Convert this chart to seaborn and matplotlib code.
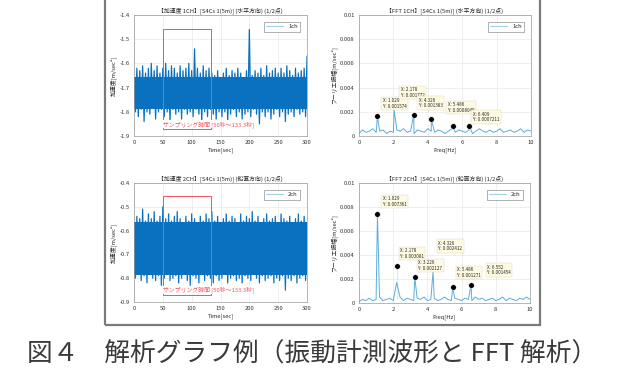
import numpy as np
import pandas as pd
import seaborn as sns
from matplotlib import pyplot as plt
from matplotlib.patches import Rectangle

# ---- data ----
# acceleration waveform envelopes (local max every 5 s, local min in between)
ch1_hi = [-1.66, -1.62, -1.63, -1.61, -1.64, -1.62, -1.60, -1.63, -1.61, -1.64,
          -1.62, -1.60, -1.63, -1.61, -1.62, -1.64, -1.61, -1.63, -1.62, -1.60,
          -1.63, -1.54, -1.62, -1.64, -1.61, -1.63, -1.62, -1.64, -1.65, -1.63,
          -1.66, -1.64, -1.62, -1.65, -1.63, -1.64, -1.62, -1.64, -1.66, -1.63,
          -1.46, -1.65, -1.63, -1.64, -1.62, -1.65, -1.61, -1.64, -1.63, -1.62,
          -1.64, -1.62, -1.64, -1.61, -1.63, -1.65, -1.62, -1.64, -1.63, -1.62,
          -1.57]
ch1_lo = [-1.80, -1.82, -1.79, -1.84, -1.80, -1.81, -1.78, -1.83, -1.80, -1.79,
          -1.82, -1.80, -1.84, -1.79, -1.81, -1.80, -1.83, -1.79, -1.81, -1.80,
          -1.82, -1.79, -1.81, -1.84, -1.80, -1.82, -1.79, -1.81, -1.83, -1.80,
          -1.82, -1.80, -1.84, -1.81, -1.79, -1.82, -1.80, -1.83, -1.81, -1.80,
          -1.82, -1.79, -1.81, -1.85, -1.80, -1.82, -1.80, -1.83, -1.81, -1.79,
          -1.82, -1.80, -1.84, -1.81, -1.80, -1.82, -1.79, -1.81, -1.80, -1.82]
ch1_core = (-1.79, -1.655)   # dense part of the trace
ch2_hi = [-0.57, -0.54, -0.55, -0.51, -0.56, -0.53, -0.55, -0.52, -0.56, -0.54,
          -0.50, -0.55, -0.53, -0.56, -0.54, -0.52, -0.55, -0.57, -0.54, -0.56,
          -0.53, -0.55, -0.57, -0.54, -0.56, -0.53, -0.55, -0.52, -0.56, -0.54,
          -0.57, -0.55, -0.53, -0.56, -0.54, -0.55, -0.57, -0.53, -0.56, -0.54,
          -0.55, -0.52, -0.56, -0.54, -0.57, -0.55, -0.53, -0.56, -0.55, -0.54,
          -0.57, -0.53, -0.55, -0.56, -0.54, -0.57, -0.55, -0.53, -0.56, -0.54,
          -0.57]
ch2_lo = [-0.80, -0.78, -0.81, -0.79, -0.82, -0.78, -0.80, -0.81, -0.79, -0.83,
          -0.80, -0.78, -0.81, -0.80, -0.79, -0.82, -0.80, -0.78, -0.81, -0.83,
          -0.79, -0.80, -0.82, -0.78, -0.81, -0.79, -0.80, -0.82, -0.79, -0.81,
          -0.80, -0.78, -0.82, -0.80, -0.79, -0.81, -0.80, -0.82, -0.79, -0.80,
          -0.81, -0.78, -0.80, -0.82, -0.79, -0.81, -0.80, -0.79, -0.82, -0.80,
          -0.81, -0.79, -0.85, -0.80, -0.81, -0.79, -0.82, -0.80, -0.79, -0.81]
ch2_core = (-0.785, -0.565)

# FFT spectra: noise floor every 0.2 Hz plus the peaks
fft1_floor = [0.0002, 0.0005, 0.0003, 0.0004, 0.0006, 0.0003, 0.0004, 0.0005, 0.0002, 0.0004,
              0.0003, 0.0005, 0.0004, 0.0006, 0.0003, 0.0004, 0.0002, 0.0005, 0.0004, 0.0003,
              0.0006, 0.0004, 0.0003, 0.0005, 0.0004, 0.0002, 0.0004, 0.0006, 0.0003, 0.0005,
              0.0004, 0.0003, 0.0005, 0.0002, 0.0004, 0.0006, 0.0004, 0.0003, 0.0005, 0.0003,
              0.0004, 0.0006, 0.0003, 0.0004, 0.0005, 0.0003, 0.0004, 0.0006, 0.0003, 0.0005,
              0.0004]
fft1_pk_f = [1.07, 2.04, 3.18, 4.21, 5.45, 6.42]
fft1_pk_a = [0.00165, 0.00215, 0.00177, 0.00138, 0.00082, 0.00082]
fft2_floor = [0.0001, 0.0003, 0.0002, 0.0004, 0.0002, 0.0003, 0.0005, 0.0002, 0.0003, 0.0004,
              0.0002, 0.0003, 0.0005, 0.0002, 0.0004, 0.0003, 0.0002, 0.0004, 0.0003, 0.0005,
              0.0002, 0.0003, 0.0004, 0.0002, 0.0003, 0.0005, 0.0003, 0.0002, 0.0004, 0.0003,
              0.0002, 0.0004, 0.0003, 0.0002, 0.0005, 0.0003, 0.0004, 0.0002, 0.0003, 0.0004,
              0.0002, 0.0003, 0.0005, 0.0002, 0.0004, 0.0003, 0.0002, 0.0004, 0.0003, 0.0005,
              0.0003]
fft2_pk_f = [1.08, 2.20, 3.26, 4.33, 5.48, 6.55]
fft2_pk_a = [0.0074, 0.0031, 0.00217, 0.0026, 0.0013, 0.0015]

# data tips (marker index, label)
tips1 = ["X: 1.029\nY: 0.001574", "X: 2.178\nY: 0.001772", "X: 4.326\nY: 0.001383",
         "X: 5.486\nY: 0.0008045", "X: 6.409\nY: 0.0007211"]
tips1_idx = [0, 2, 3, 4, 5]
tips2 = ["X: 1.029\nY: 0.007361", "X: 2.178\nY: 0.003081", "X: 3.226\nY: 0.002127",
         "X: 4.326\nY: 0.002412", "X: 5.486\nY: 0.001271", "X: 6.552\nY: 0.001454"]
tips2_idx = [0, 1, 2, 3, 4, 5]

sample_start, sample_end = 50, 133.3

titles = ["【加速度 1CH】[S4Cs 1(5m)] (水平方向) (1/2点)",
          "【FFT 1CH】[S4Cs 1(5m)] (水平方向) (1/2点)",
          "【加速度 2CH】[S4Cs 1(5m)] (鉛直方向) (1/2点)",
          "【FFT 2CH】[S4Cs 1(5m)] (鉛直方向) (1/2点)"]
legends = ["1ch", "2ch"]
caption = "図４　解析グラフ例（振動計測波形と FFT 解析）"

ch1_ticks = [-1.9, -1.8, -1.7, -1.6, -1.5, -1.4]
ch2_ticks = [-0.9, -0.8, -0.7, -0.6, -0.5, -0.4]
fft_ticks = [0, 0.002, 0.004, 0.006, 0.008, 0.01]
fft_tick_labels = ["0", "0.002", "0.004", "0.006", "0.008", "0.01"]

# ---- style ----
sns.set_theme(style="whitegrid")
plt.rcParams['font.family'] = ['Noto Sans CJK JP', 'DejaVu Sans']
plt.rcParams['axes.unicode_minus'] = False

fig = plt.figure(figsize=(6.18, 3.79), dpi=100)
fig.patch.set_facecolor('white')

wave_col = '#0a70c0'
fft_col = '#5aaddc'
red = '#f4505f'
fs = 4.2

# outer frame of the figure panel
fig.add_artist(Rectangle((105 / 618, 1 - 325 / 379), 435 / 618, 325 / 379 + 0.01,
                         transform=fig.transFigure, fill=False, ec='#7a7a7a', lw=1.6))

pos = [[0.2168, 0.6412, 0.280, 0.3193],
       [0.5809, 0.6412, 0.2783, 0.3193],
       [0.2168, 0.2032, 0.280, 0.3140],
       [0.5809, 0.2005, 0.2767, 0.3166]]


def style_axes(ax):
    ax.tick_params(labelsize=fs, length=1.5, pad=1.5, colors='#333333')
    ax.grid(True, color='#e4e4e4', lw=0.4)
    for s in ax.spines.values():
        s.set_color('#9a9a9a')
        s.set_linewidth(0.5)


def add_legend(ax):
    lg = ax.legend(loc='upper right', fontsize=fs, handlelength=3, frameon=True,
                   fancybox=False, borderpad=0.4, borderaxespad=1.2)
    lg.get_frame().set_edgecolor('#555555')
    lg.get_frame().set_linewidth(0.4)
    lg.get_lines()[0].set_color('#9fd3ef')
    lg.get_lines()[0].set_linewidth(0.8)


def wave_panel(ax, hi, lo, core, ticks, title, leg, box_lo, box_hi):
    t_hi = np.linspace(0, 300, len(hi))
    t_lo = np.linspace(2.5, 297.5, len(lo))
    df = pd.DataFrame({'t': np.concatenate([t_hi, t_lo]),
                       'a': np.concatenate([hi, lo])}).sort_values('t')
    ax.fill_between([0, 300], core[0], core[1], color=wave_col, lw=0)
    sns.lineplot(data=df, x='t', y='a', ax=ax, color=wave_col, lw=0.9,
                 sort=False, label=leg)
    ax.set_xlim(0, 300)
    ax.set_ylim(ticks[0], ticks[-1])
    ax.set_xticks([0, 50, 100, 150, 200, 250, 300])
    ax.set_yticks(ticks)
    ax.set_yticklabels([f"{v:.1f}" for v in ticks])
    ax.set_xlabel("Time[sec]", fontsize=fs, labelpad=1.5)
    ax.set_ylabel("加速度[m/sec²]", fontsize=fs, labelpad=2)
    ax.set_title(title, fontsize=fs, pad=2)
    ax.add_patch(Rectangle((sample_start, box_lo), sample_end - sample_start, box_hi - box_lo,
                           fill=False, ec=red, lw=0.7, zorder=5))
    ax.text(sample_start + 1, box_lo + 0.006, f"サンプリング時間 [{sample_start}秒〜{sample_end}秒]",
            fontsize=fs, color=red, va='bottom', ha='left', zorder=6,
            bbox=dict(fc='white', ec='none', pad=0.3))
    add_legend(ax)
    style_axes(ax)


def fft_panel(ax, floor, pk_f, pk_a, tips, tips_idx, offsets, title, leg, marked):
    f = np.concatenate([np.linspace(0, 10, len(floor)), pk_f])
    a = np.concatenate([floor, pk_a])
    df = pd.DataFrame({'f': f, 'a': a}).sort_values('f')
    sns.lineplot(data=df, x='f', y='a', ax=ax, color=fft_col, lw=0.7,
                 sort=False, label=leg)
    mf = [pk_f[i] for i in marked]
    ma = [pk_a[i] for i in marked]
    sns.scatterplot(x=mf, y=ma, ax=ax, color='black', s=16, zorder=5, legend=False)
    for txt, i, off in zip(tips, tips_idx, offsets):
        ax.text(pk_f[i] + off[0], pk_a[i] + off[1], txt, fontsize=3.3, va='bottom', ha='left',
                zorder=7, linespacing=1.15,
                bbox=dict(fc='#fffbe0', ec='#d8d4b0', lw=0.3, pad=1.0, alpha=0.9))
    ax.set_xlim(0, 10)
    ax.set_ylim(0, 0.01)
    ax.set_xticks([0, 2, 4, 6, 8, 10])
    ax.set_yticks(fft_ticks)
    ax.set_yticklabels(fft_tick_labels)
    ax.set_xlabel("Freq[Hz]", fontsize=fs, labelpad=1.5)
    ax.set_ylabel("フーリエ振幅[m/sec²]", fontsize=fs, labelpad=2)
    ax.set_title(title, fontsize=fs, pad=2)
    add_legend(ax)
    style_axes(ax)


# label placement offsets (x in Hz, y in amplitude) for the data tips
offsets1 = [(0.3, 0.0006), (-0.75, 0.0014), (-0.75, 0.0009), (-0.3, 0.0011), (0.2, 0.0003)]
offsets2 = [(0.3, 0.0006), (0.2, 0.0006), (0.2, 0.0005), (0.3, 0.0017), (0.25, 0.0008),
            (0.95, 0.0008)]

axs = [fig.add_axes(p) for p in pos]
wave_panel(axs[0], ch1_hi, ch1_lo, ch1_core, ch1_ticks, titles[0], legends[0], -1.871, -1.458)
fft_panel(axs[1], fft1_floor, fft1_pk_f, fft1_pk_a, tips1, tips1_idx, offsets1, titles[1],
          legends[0], [0, 2, 3, 4, 5])
wave_panel(axs[2], ch2_hi, ch2_lo, ch2_core, ch2_ticks, titles[2], legends[1], -0.87, -0.455)
fft_panel(axs[3], fft2_floor, fft2_pk_f, fft2_pk_a, tips2, tips2_idx, offsets2, titles[3],
          legends[1], [0, 1, 2, 4, 5])

fig.text(312 / 618, 1 - 355 / 379, caption, fontsize=18.5, color='#3a3a3a',
         ha='center', va='center')

fig.savefig('out.png', dpi=100, facecolor='white')
